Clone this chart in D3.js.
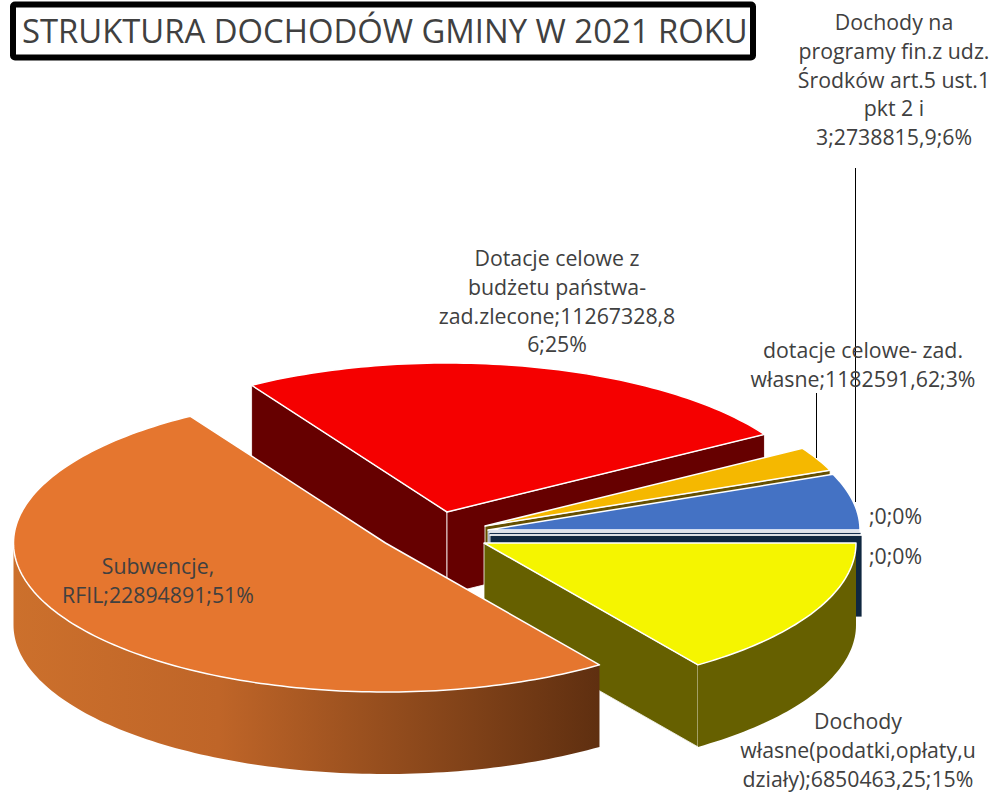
<!DOCTYPE html>
<html>
<head>
<meta charset="utf-8">
<script src="https://cdn.jsdelivr.net/npm/d3@7"></script>
<style>
  html, body { margin: 0; padding: 0; background: #fff; }
  text { font-family: "Open Sans", sans-serif; fill: #404040; }
</style>
</head>
<body>
<div id="chart"></div>
<script>
// Data, clockwise from the 3 o'clock position
const categories = [
  'Dochody własne(podatki,opłaty,udziały)',
  'Subwencje, RFIL',
  'Dotacje celowe z budżetu państwa-zad.zlecone',
  'dotacje celowe- zad. własne',
  'Dochody na programy fin.z udz. Środków art.5 ust.1 pkt 2 i 3',
  '',
  ''
];
const values = [6850463.25, 22894891, 11267328.86, 1182591.62, 2738815.9, 0, 0];
const labelLines = [
  ['Dochody', 'własne(podatki,opłaty,u', 'działy);6850463,25;15%'],
  ['Subwencje,', 'RFIL;22894891;51%'],
  ['Dotacje celowe z', 'budżetu państwa-', 'zad.zlecone;11267328,8', '6;25%'],
  ['dotacje celowe- zad.', 'własne;1182591,62;3%'],
  ['Dochody na', 'programy fin.z udz.', 'Środków art.5 ust.1', 'pkt 2 i', '3;2738815,9;6%'],
  [';0;0%'],
  [';0;0%']
];
const titleText = 'STRUKTURA DOCHODÓW GMINY W 2021 ROKU';

// Colours per slice
const topColors = ['#f5f500', '#e5762f', '#f50000', '#f5b800', '#4472c4', '#1f3864', '#0f2740'];
const wallColors = ['#666000', '#cc702c', '#660000', '#665000', '#2a4a80', '#16304f', '#0f2740'];

// Layout: where each exploded slice has its tip, and where labels go
const width = 992;
const height = 793;
const rx = 372;
const ry = 149;
const depth = 82;
const tips = [[484, 543], [385.5, 543], [447, 512], [485, 526], [488, 530], [489, 532], [490, 535]];
const labelPos = [
  { x: 858, y: 729, anchor: 'middle' },
  { x: 158, y: 574, anchor: 'middle' },
  { x: 557, y: 266, anchor: 'middle' },
  { x: 863, y: 358, anchor: 'middle' },
  { x: 894, y: 30, anchor: 'middle' },
  { x: 869, y: 524, anchor: 'start' },
  { x: 869, y: 564, anchor: 'start' }
];
const leaders = [
  { x: 816, y1: 393, y2: 458 },
  { x: 855, y1: 168, y2: 502 }
];
const lineStep = 28.8;
const drawOrder = [2, 3, 4, 5, 6, 0, 1];

const svg = d3.select('#chart')
  .append('svg')
  .attr('width', width)
  .attr('height', height)
  .style('display', 'block');

const defs = svg.append('defs');

const wallGrad = defs.append('linearGradient')
  .attr('id', 'orangeWall')
  .attr('gradientUnits', 'userSpaceOnUse')
  .attr('x1', 13).attr('x2', 600).attr('y1', 0).attr('y2', 0);
wallGrad.append('stop').attr('offset', 0).attr('stop-color', '#cc702c');
wallGrad.append('stop').attr('offset', 0.35).attr('stop-color', '#bf6528');
wallGrad.append('stop').attr('offset', 1).attr('stop-color', '#5f2f10');

// Pie angles; d3 measures clockwise from north, first slice starts due east
const pie = d3.pie().sort(null).value(d => d)
  .startAngle(Math.PI / 2)
  .endAngle(Math.PI / 2 + 2 * Math.PI);
const slices = pie(values);

const line = d3.line();
const rimPoint = (tip, a, dy = 0) => [
  tip[0] + rx * Math.sin(a),
  tip[1] - ry * Math.cos(a) + dy
];
const rim = (tip, a0, a1, dy = 0) => {
  const n = Math.max(1, Math.ceil(Math.abs(a1 - a0) / 0.02));
  return d3.range(n + 1).map(i => rimPoint(tip, a0 + (a1 - a0) * i / n, dy));
};

const pieGroup = svg.append('g');

drawOrder.forEach(i => {
  const s = slices[i];
  const tip = tips[i];
  const g = pieGroup.append('g').attr('class', 'slice');
  const wallFill = i === 1 ? 'url(#orangeWall)' : wallColors[i];

  // Cut faces, only those turned towards the viewer
  const cuts = [];
  if (Math.sin(s.startAngle) < -1e-6) cuts.push(s.startAngle);
  if (Math.sin(s.endAngle) > 1e-6) cuts.push(s.endAngle);
  cuts.forEach(a => {
    const p = rimPoint(tip, a);
    g.append('path')
      .attr('d', line([tip, p, [p[0], p[1] + depth], [tip[0], tip[1] + depth]]) + 'Z')
      .attr('fill', wallColors[i])
      .attr('stroke', '#fff')
      .attr('stroke-width', 0.8);
  });

  // Outer wall, front half of the ellipse only
  const a0 = Math.max(s.startAngle, Math.PI / 2);
  const a1 = Math.min(s.endAngle, 3 * Math.PI / 2);
  if (a1 > a0) {
    const pts = rim(tip, a0, a1).concat(rim(tip, a1, a0, depth));
    g.append('path')
      .attr('d', line(pts) + 'Z')
      .attr('fill', wallFill);
  }

  // Top face
  const top = [tip].concat(rim(tip, s.startAngle, s.endAngle));
  g.append('path')
    .attr('d', line(top) + 'Z')
    .attr('fill', topColors[i])
    .attr('stroke', '#fff')
    .attr('stroke-width', 1.5)
    .attr('stroke-linejoin', 'round');
});

// Leader lines
svg.selectAll('.leader')
  .data(leaders)
  .enter()
  .append('line')
  .attr('class', 'leader')
  .attr('x1', d => d.x + 0.5)
  .attr('x2', d => d.x + 0.5)
  .attr('y1', d => d.y1)
  .attr('y2', d => d.y2)
  .attr('stroke', '#000')
  .attr('stroke-width', 1);

// Data labels
const labels = svg.append('g');
labelLines.forEach((lines, i) => {
  const pos = labelPos[i];
  const t = labels.append('text')
    .attr('text-anchor', pos.anchor)
    .attr('font-size', 21.3);
  lines.forEach((l, j) => {
    t.append('tspan')
      .attr('x', pos.x)
      .attr('y', pos.y + j * lineStep)
      .text(l);
  });
});

// Title box
svg.append('rect')
  .attr('x', 13).attr('y', 4.5)
  .attr('width', 740).attr('height', 53)
  .attr('rx', 2)
  .attr('fill', '#fff')
  .attr('stroke', '#000')
  .attr('stroke-width', 6);
svg.append('text')
  .attr('x', 22)
  .attr('y', 43)
  .attr('font-size', 32.8)
  .text(titleText);
</script>
</body>
</html>
